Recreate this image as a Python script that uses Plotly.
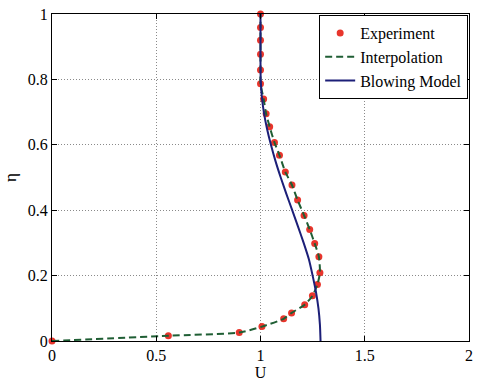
import plotly.graph_objects as go

# Experiment data (U, eta)
exp_U = [0.0, 0.558, 0.898, 1.007, 1.111, 1.149, 1.212, 1.249, 1.273, 1.285, 1.28, 1.26,
         1.236, 1.209, 1.178, 1.151, 1.119, 1.091, 1.067, 1.044, 1.027, 1.015, 1.0, 1.0,
         1.0, 1.0, 1.0, 1.0]
exp_eta = [0.0, 0.016, 0.026, 0.044, 0.068, 0.086, 0.111, 0.138, 0.173, 0.209, 0.258, 0.298,
           0.341, 0.384, 0.431, 0.477, 0.517, 0.568, 0.607, 0.655, 0.695, 0.74, 0.787, 0.829,
           0.877, 0.92, 0.959, 1.0]

# Blowing model curve (U, eta)
model_eta = [0.0, 0.05, 0.1, 0.15, 0.2, 0.25, 0.3, 0.35, 0.4, 0.45, 0.5, 0.55, 0.6,
             0.65, 0.7, 0.75, 0.8, 0.85, 0.9, 1.0]
model_U = [1.288, 1.285, 1.278, 1.266, 1.25, 1.232, 1.207, 1.18, 1.152, 1.124, 1.097,
           1.072, 1.05, 1.031, 1.016, 1.006, 1.001, 1.0, 1.0, 1.0]

x_ticks = [0, 0.5, 1, 1.5, 2]
x_labels = ["0", "0.5", "1", "1.5", "2"]
y_ticks = [0, 0.2, 0.4, 0.6, 0.8, 1]
y_labels = ["0", "0.2", "0.4", "0.6", "0.8", "1"]

FONT = "'Liberation Serif', 'Times New Roman', Times, serif"

fig = go.Figure()
fig.add_trace(go.Scatter(x=exp_U, y=exp_eta, mode="markers", name="Experiment",
                         marker=dict(color="#e8352c", size=7), cliponaxis=False))
fig.add_trace(go.Scatter(x=exp_U, y=exp_eta, mode="lines", name="Interpolation",
                         line=dict(color="#1f5e34", width=2, dash="7px,4px", shape="spline", smoothing=0.6),
                         cliponaxis=False))
fig.add_trace(go.Scatter(x=model_U, y=model_eta, mode="lines", name="Blowing Model",
                         line=dict(color="#1c1f78", width=2, shape="spline", smoothing=0.6),
                         cliponaxis=False))

axis_common = dict(showline=True, linecolor="black", linewidth=1, mirror="ticks",
                   ticks="inside", ticklen=5, tickcolor="black",
                   showgrid=True, gridcolor="#8a8a8a", griddash="1px,2px", gridwidth=1,
                   zeroline=False, tickfont=dict(family=FONT, size=16, color="black"))

fig.update_layout(
    width=478, height=383,
    margin=dict(l=52, r=5, t=14, b=36),
    paper_bgcolor="white", plot_bgcolor="white",
    showlegend=True,
    legend=dict(x=0.998, y=0.997, xanchor="right", yanchor="top",
                bgcolor="white", bordercolor="black", borderwidth=1,
                font=dict(family=FONT, size=16, color="black"),
                tracegroupgap=0, itemwidth=30),
    xaxis=dict(range=[0, 2], tickvals=x_ticks, ticktext=x_labels,
               title=dict(text="U", font=dict(family=FONT, size=16, color="black"), standoff=3),
               **axis_common),
    yaxis=dict(range=[0, 1], tickvals=y_ticks, ticktext=y_labels,
               title=dict(text="η", font=dict(family=FONT, size=17, color="black"), standoff=6),
               **axis_common),
)

fig.write_html("out.html")
